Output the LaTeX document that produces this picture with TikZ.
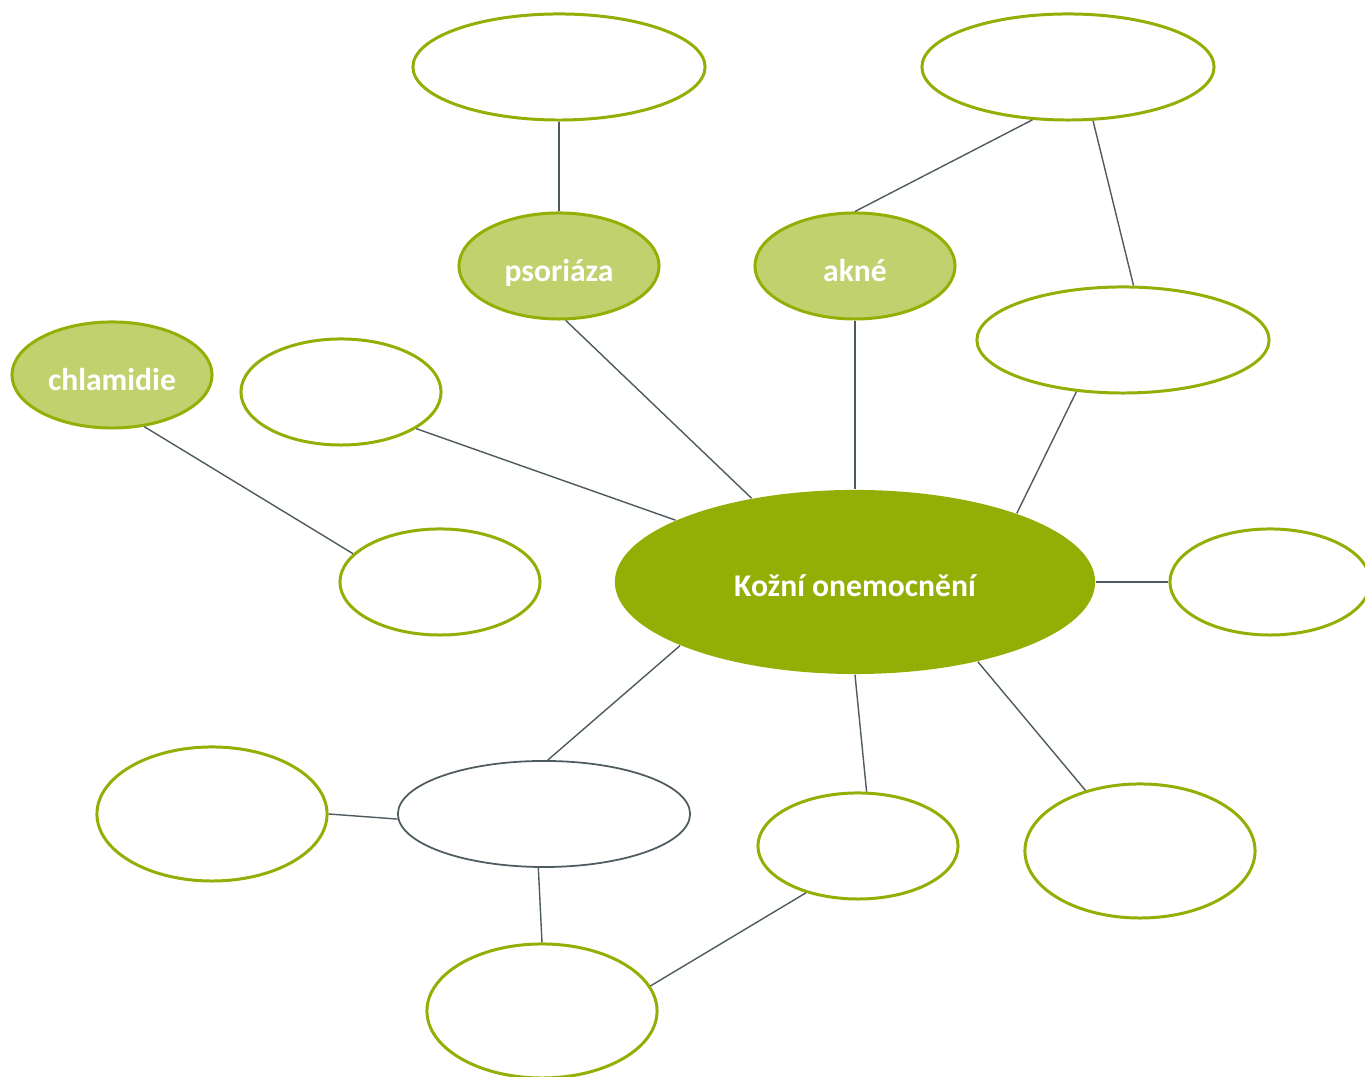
\documentclass[tikz,border=0pt]{standalone}
\usepackage{fontspec}
\setmainfont{Carlito}
\usetikzlibrary{shapes.geometric}
\definecolor{leafgreen}{HTML}{93AF05}
\definecolor{palegreen}{HTML}{C0D16E}
\definecolor{linegrey}{HTML}{4E5B5F}

\begin{document}
\begin{tikzpicture}[x=0.01cm,y=-0.01cm,
	blank/.style={ellipse,draw=leafgreen,line width=0.85pt,fill=white,inner sep=0pt},
	small/.style={minimum width=2cm,minimum height=1.06cm},
	wide/.style={minimum width=2.92cm,minimum height=1.06cm},
	big/.style={minimum width=2.3cm,minimum height=1.34cm},
	topic/.style={blank,small,fill=palegreen,text=white,font=\fontsize{9pt}{11pt}\selectfont\bfseries,text height=8.6pt,text depth=0pt},
	link/.style={draw=linegrey,line width=0.4pt}]
	\useasboundingbox (0,0) rectangle (1365,1077);
	% centre
	\node[ellipse,fill=leafgreen,inner sep=0pt,minimum width=4.8cm,minimum height=1.84cm,text=white,font=\fontsize{9pt}{11pt}\selectfont\bfseries,text height=8.4pt,text depth=0pt] (kozni) at (855,582) {Kožní onemocnění};
	% named topics
	\node[topic] (psor) at (559,266) {psoriáza};
	\node[topic] (akne) at (855,266) {akné};
	\node[topic] (chlam) at (112,375) {chlamidie};
	% empty ones
	\node[blank,wide] (tl) at (559,67) {};
	\node[blank,wide] (tr) at (1068,67) {};
	\node[blank,wide] (rm) at (1123,340) {};
	\node[blank,small] (lm) at (341,392) {};
	\node[blank,small] (ll) at (440,582) {};
	\node[blank,small] (rr) at (1270,582) {};
	\node[blank,big] (bl) at (212,814) {};
	\node[blank,wide,draw=linegrey,line width=0.5pt] (bm) at (544,814) {};
	\node[blank,small] (bc) at (858,846) {};
	\node[blank,big] (br) at (1140,851) {};
	\node[blank,big] (bb) at (542,1011) {};
	% links
	\draw[link] (tl.270) -- (psor.90);
	\draw[link] (tr.236.6) -- (akne.90);
	\draw[link] (tr.295) -- (rm.79);
	\draw[link] (psor.277) -- (kozni.141);
	\draw[link] (akne.270) -- (kozni.90);
	\draw[link] (rm.228.5) -- (kozni.23.5);
	\draw[link] (chlam.302) -- (ll.162);
	\draw[link] (lm.334) -- (kozni.161.6);
	\draw[link] (kozni.0) -- (rr.180);
	\draw[link] (kozni.200) -- (bm.86);
	\draw[link] (kozni.270) -- (bc.81.6);
	\draw[link] (kozni.327) -- (br.132);
	\draw[link] (bl.0) -- (bm.182);
	\draw[link] (bm.264.7) -- (bb.90);
	\draw[link] (bc.222) -- (bb.13);
\end{tikzpicture}
\end{document}
